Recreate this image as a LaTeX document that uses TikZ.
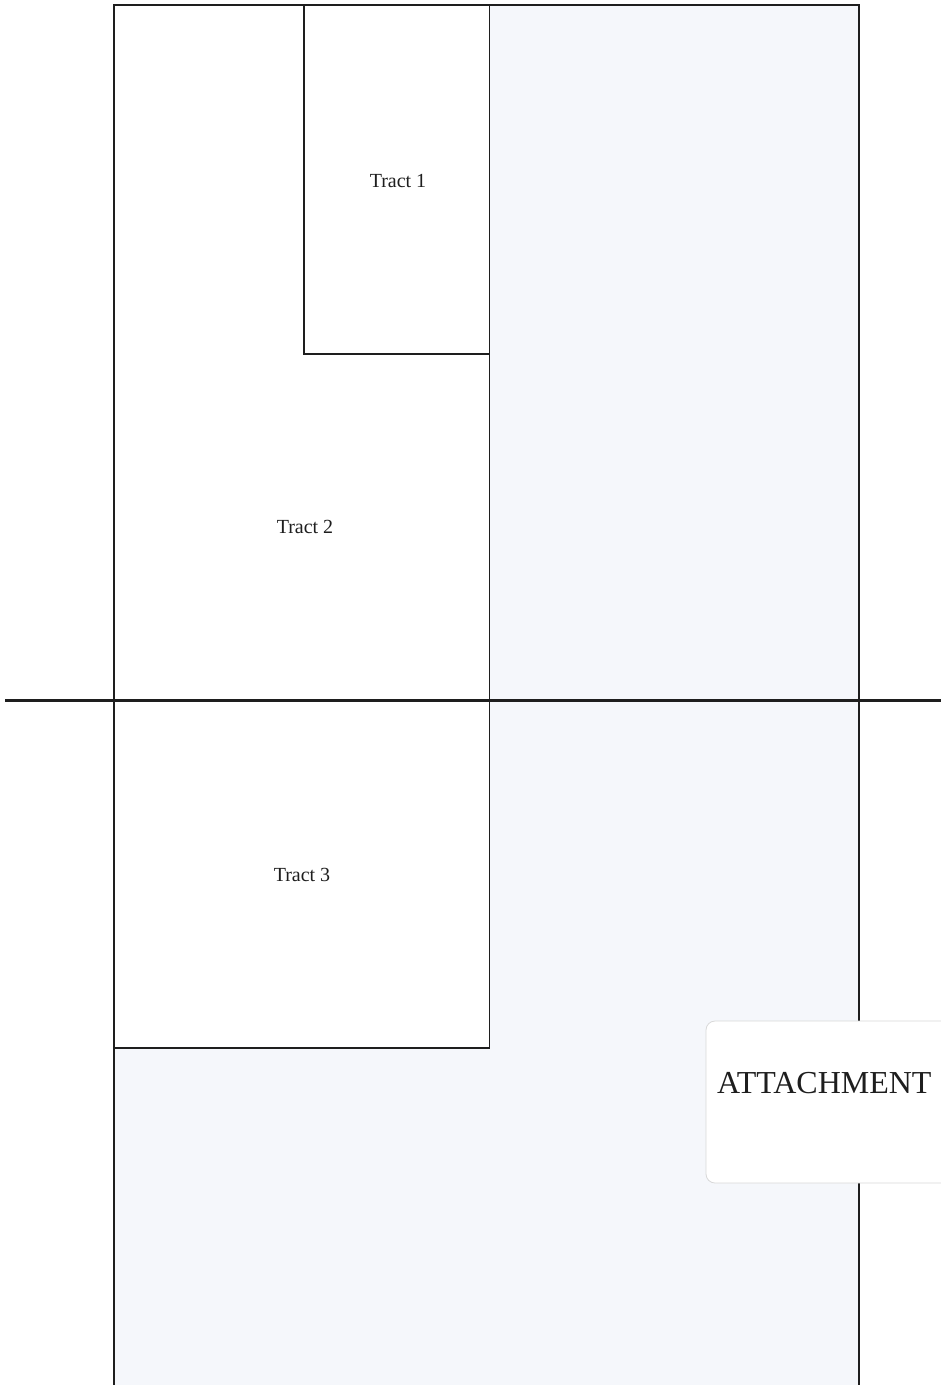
\documentclass[tikz,border=0pt]{standalone}
\usepackage{fontspec}
\setmainfont{Liberation Serif}
\usetikzlibrary{positioning}
\definecolor{ink}{HTML}{1E1E1E}
\definecolor{tintbg}{HTML}{F5F7FB}
\definecolor{tagedge}{HTML}{D8D8D8}
\tikzset{
  bound/.style={draw=ink, line width=2.6pt},
  inner/.style={draw=ink, line width=1.6pt},
  road/.style={draw=ink, line width=3pt},
  tractlab/.style={font=\fontsize{20}{24}\selectfont, text=ink, inner sep=0pt},
  tag/.style={fill=white, draw=tagedge, line width=0.8pt, rounded corners=9pt},
  taglab/.style={font=\fontsize{32}{37}\selectfont, text=ink, anchor=west, inner sep=0pt},
}
\begin{document}
\begin{tikzpicture}[x=1pt,y=-1pt]
    \useasboundingbox (0,0) rectangle (941,1385);
    \fill[white] (0,0) rectangle (941,1385);
    % tinted part of the scan
    \fill[tintbg] (489.5,5) rectangle (859,1390);
    \fill[tintbg] (114,1048) rectangle (489.5,1390);
    % parcel lines
    \draw[bound] (114,1395) -- (114,5) -- (859,5) -- (859,1395);
    \draw[inner] (489.5,5) -- (489.5,1048);
    \draw[inner] (304,5) -- (304,354) -- (489.5,354);
    \draw[inner, line width=2pt] (114,1048) -- (489.5,1048);
    \draw[road] (5,700.5) -- (941,700.5);
    % labels
    \node[tractlab] (t1) at (398,181) {Tract 1};
    \node[tractlab] (t2) at (305,527) {Tract 2};
    \node[tractlab] (t3) at (302,875) {Tract 3};
    % attachment sticker
    \draw[tag] (706,1021) rectangle (960,1183);
    \node[taglab] (att) at (717,1083) {ATTACHMENT};
  \end{tikzpicture}
\end{document}
